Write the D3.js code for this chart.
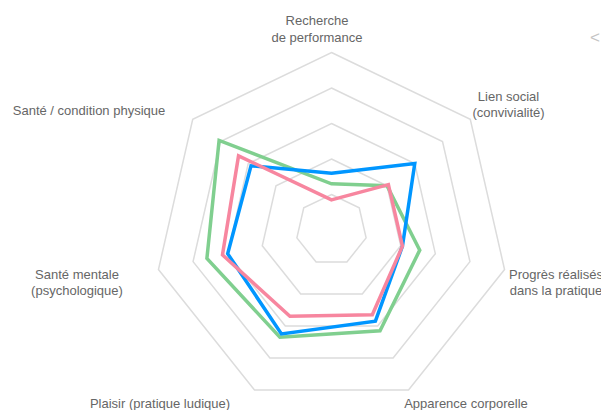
<!DOCTYPE html>
<html>
<head>
<meta charset="utf-8">
<script src="https://cdn.jsdelivr.net/npm/d3@7"></script>
<style>
  html, body { margin: 0; padding: 0; background: #fff; }
  svg { display: block; }
</style>
</head>
<body>
<svg id="chart" width="601" height="410"></svg>
<script>
// ---- data ----
const axes = [
  "Recherche\nde performance",
  "Lien social\n(convivialité)",
  "Progrès réalisés\ndans la pratique",
  "Apparence corporelle",
  "Plaisir (pratique ludique)",
  "Santé mentale\n(psychologique)",
  "Santé / condition physique"
];
const seriesNames = ["Série A", "Série B", "Série C"];
const seriesGreen = [26, 40, 51, 63, 67, 72, 81];
const seriesBlue  = [32, 60, 41, 57, 65, 60, 58];
const seriesPink  = [17, 41, 41, 53, 54, 63, 67];
const levels = [20, 40, 60, 80, 100];
const maxValue = 100;

// ---- layout ----
const W = 601, H = 410;
const cx = 331.5, cy = 230, R = 177.5;
const svg = d3.select("#chart");
const n = axes.length;
const angle = d3.scaleLinear().domain([0, n]).range([0, 2 * Math.PI]);
const r = d3.scaleLinear().domain([0, maxValue]).range([0, R]);
const pt = (i, v) => [cx + r(v) * Math.sin(angle(i)), cy - r(v) * Math.cos(angle(i))];

const g = svg.append("g");
// grid
const line = d3.line().curve(d3.curveLinearClosed);
g.selectAll("path.grid").data(levels).join("path")
  .attr("class", "grid")
  .attr("d", lv => line(d3.range(n).map(i => pt(i, lv))))
  .attr("fill", "none")
  .attr("stroke", "#dcdcdc")
  .attr("stroke-width", 1.5);

// series
const series = [
  { name: seriesNames[1], values: seriesGreen, color: "#80cf8f" },
  { name: seriesNames[0], values: seriesBlue, color: "#0096ff" },
  { name: seriesNames[2], values: seriesPink, color: "#f7869f" }
];
g.selectAll("path.series").data(series).join("path")
  .attr("class", "series")
  .attr("d", s => line(s.values.map((v, i) => pt(i, v))))
  .attr("fill", "none")
  .attr("stroke", s => s.color)
  .attr("stroke-width", 3.5)
  .attr("stroke-linejoin", "miter");

// axis labels
const labelLayout = [
  { x: 317,   y: 20,  a: "middle" },
  { x: 508.5, y: 95.5, a: "middle" },
  { x: 556,   y: 273.5, a: "middle" },
  { x: 466,   y: 403, a: "middle" },
  { x: 160,   y: 403, a: "middle" },
  { x: 77,    y: 273.5, a: "middle" },
  { x: 89,    y: 110, a: "middle" }
];
const lh = 16.5;
axes.forEach((name, i) => {
  const L = labelLayout[i];
  const t = g.append("text")
    .attr("font-family", "Liberation Sans, Arial, sans-serif")
    .attr("font-size", 13)
    .attr("fill", "#666")
    .attr("text-anchor", L.a)
    .attr("dominant-baseline", "central");
  name.split("\n").forEach((ln, k) => {
    t.append("tspan").attr("x", L.x).attr("y", L.y + k * lh).text(ln);
  });
});

// legend page arrow (cut off)
svg.append("text")
  .attr("x", 590).attr("y", 43)
  .attr("font-family", "Liberation Sans, Arial, sans-serif")
  .attr("font-size", 17)
  .attr("fill", "#c4c4c4")
  .text("<");
</script>
</body>
</html>
